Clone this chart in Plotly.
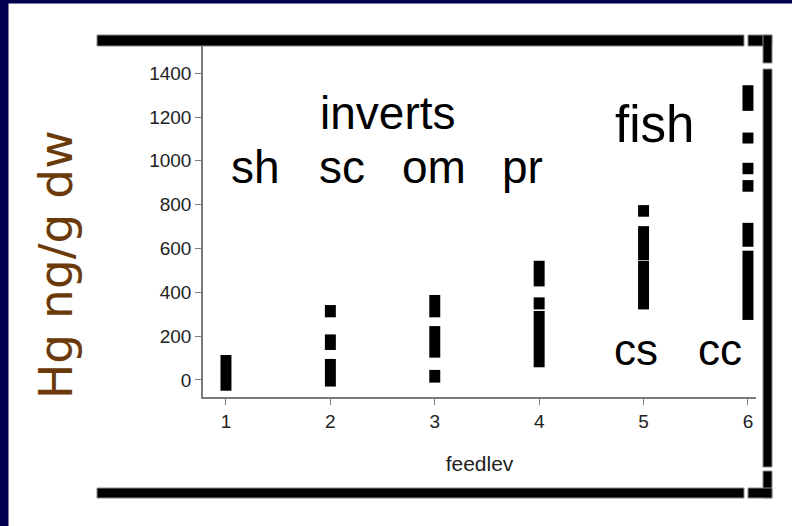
import plotly.graph_objects as go

# ---- data ----
seg_feedlev = [1, 2, 2, 2, 3, 3, 3, 4, 4, 4, 5, 5, 5, 6, 6, 6, 6, 6, 6]
seg_low = [-49, 286, 137, -30, 286, 102, -12, 427, 322, 58, 745, 547, 322,
           1228, 1079, 939, 859, 608, 274]
seg_high = [114, 342, 208, 96, 388, 246, 46, 544, 377, 315, 798, 702, 544,
            1345, 1129, 991, 912, 717, 590]
x_ticks = [1, 2, 3, 4, 5, 6]
y_ticks = [0, 200, 400, 600, 800, 1000, 1200, 1400]

label_text = ["inverts", "sh", "sc", "om", "pr", "fish", "cs", "cc"]
label_x = [2.552, 1.287, 2.111, 2.992, 3.845, 5.109, 4.927, 5.732]
label_y = [1218, 972, 972, 972, 972, 1164, 140, 140]
label_size = [46, 46, 46, 46, 46, 51, 44, 44]

W, H = 792, 526
PL, PR, PT, PB = 203, 756, 46, 397  # plot area in pixels


def px(x):
    return (x - PL) / (PR - PL)


def py(y):
    return (PB - y) / (PB - PT)


fig = go.Figure()
fig.add_trace(go.Bar(
    x=seg_feedlev,
    y=[h - l for h, l in zip(seg_high, seg_low)],
    base=seg_low,
    width=0.105,
    marker=dict(color="black", line=dict(width=0)),
    hoverinfo="skip",
))

tickfont = dict(family="Liberation Sans, Arial", size=19, color="#222222")

fig.update_layout(
    width=W, height=H,
    margin=dict(l=PL, r=W - PR, t=PT, b=H - PB),
    paper_bgcolor="white", plot_bgcolor="white",
    showlegend=False, barmode="overlay",
    xaxis=dict(range=[0.78, 6.077], tickvals=x_ticks, showgrid=False, zeroline=False,
               showline=True, linecolor="#7a7a7a", linewidth=1.5,
               ticks="outside", ticklen=6, tickcolor="#7a7a7a", tickwidth=1.2,
               tickfont=tickfont,
               title=dict(text="feedlev",
                          font=dict(family="Liberation Sans, Arial", size=21, color="#222222"),
                          standoff=26)),
    yaxis=dict(range=[-77.6, 1524], tickvals=y_ticks, showgrid=False, zeroline=False,
               showline=True, linecolor="#7a7a7a", linewidth=1.5,
               ticks="outside", ticklen=6, tickcolor="#7a7a7a", tickwidth=1.2,
               tickfont=tickfont, ticklabelstandoff=0),
)

for t, x, y, s in zip(label_text, label_x, label_y, label_size):
    fig.add_annotation(x=x, y=y, xref="x", yref="y", text=t, showarrow=False,
                       xanchor="center", yanchor="middle",
                       font=dict(family="Liberation Sans, Arial", size=s, color="black"))

fig.add_annotation(x=px(55), y=py(265), xref="paper", yref="paper",
                   text="Hg ng/g dw", textangle=-90, showarrow=False,
                   xanchor="center", yanchor="middle",
                   font=dict(family="DejaVu Sans, Verdana", size=47, color="#6B3A0A"))

# slide frame decorations
def rect(x0, y0, x1, y1, color="black", line="#8a8a8a"):
    fig.add_shape(type="rect", xref="paper", yref="paper",
                  x0=px(x0), x1=px(x1), y0=py(y1), y1=py(y0),
                  fillcolor=color, line=dict(color=line, width=1), layer="above")

navy = "#00004E"
rect(0, 0, W, 3, navy, navy)
rect(0, 0, 8, H, navy, navy)
rect(97, 35, 744, 46)
rect(748, 35, 772, 46)
rect(763, 35, 772, 63)
rect(763, 69, 772, 467)
rect(763, 471, 772, 498)
rect(748, 488, 772, 498)
rect(97, 488, 744, 498)

fig.write_html("out.html")
